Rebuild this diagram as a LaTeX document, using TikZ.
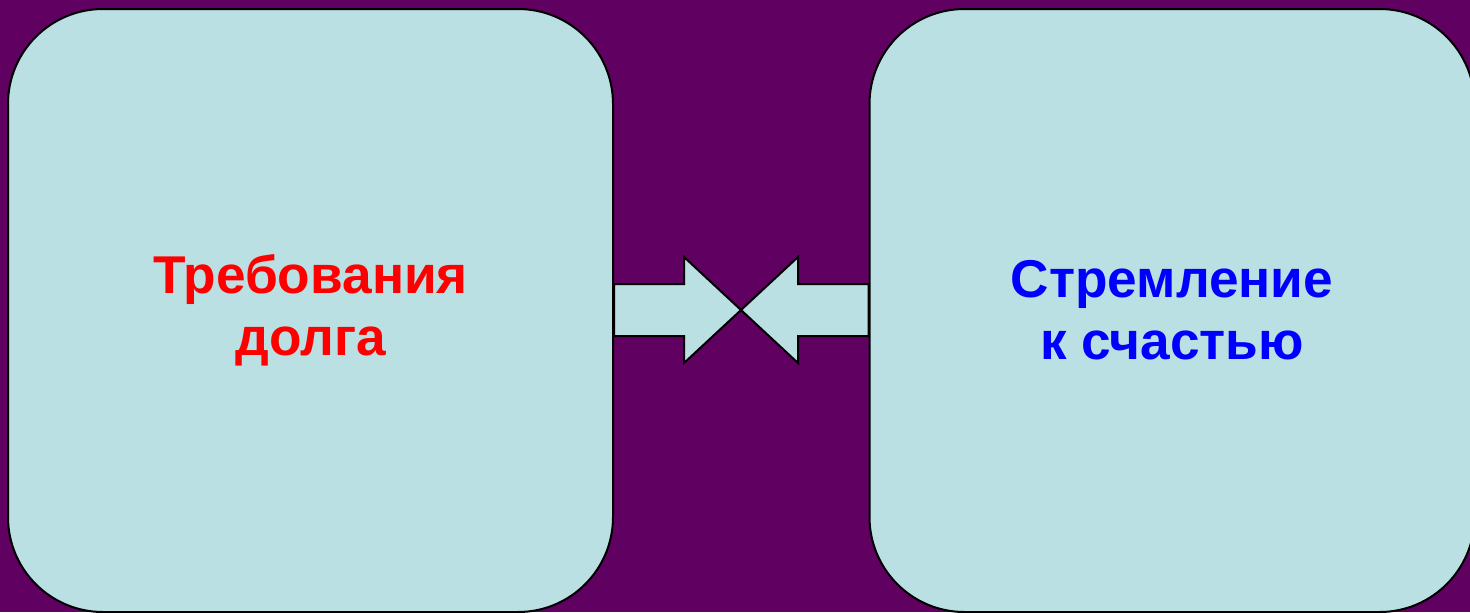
\documentclass[tikz,border=0pt]{standalone}
\usepackage{fontspec}
\setmainfont{Liberation Sans}
\usetikzlibrary{positioning,calc}

\definecolor{bgpurple}{RGB}{96,0,96}
\definecolor{boxcyan}{RGB}{186,224,227}

\tikzset{
  box/.style={draw=black, fill=boxcyan, line width=1pt, rounded corners=47.5pt,
    minimum width=302.5pt, minimum height=301.5pt, inner sep=0pt, align=center,
    font=\bfseries\fontsize{26.6}{31}\selectfont},
  arrowshape/.style={draw=black, fill=boxcyan, line width=1pt, line join=miter}
}

\begin{document}
\begin{tikzpicture}
  [x=0.5pt, y=-0.5pt]

\fill[bgpurple] (0,0) rectangle (1470,612);
\useasboundingbox (0,0) rectangle (1470,612);

% the two blocks
\node[box, text=red] (duty) at (310.5,310.5) {Требования\\долга};
\node[box, text=blue] (happy) at (1172,310.5) {Стремление\\к счастью};

% arrows meeting in the middle
\coordinate (meet) at (741,310);
\draw[arrowshape] (duty.east |- 0,284) -- (684,284) -- (684,257) -- (meet)
  -- (684,363) -- (684,336) -- (duty.east |- 0,336) -- cycle;
\draw[arrowshape] (happy.west |- 0,284) -- (798,284) -- (798,257) -- (meet)
  -- (798,363) -- (798,336) -- (happy.west |- 0,336) -- cycle;
\end{tikzpicture}
\end{document}
